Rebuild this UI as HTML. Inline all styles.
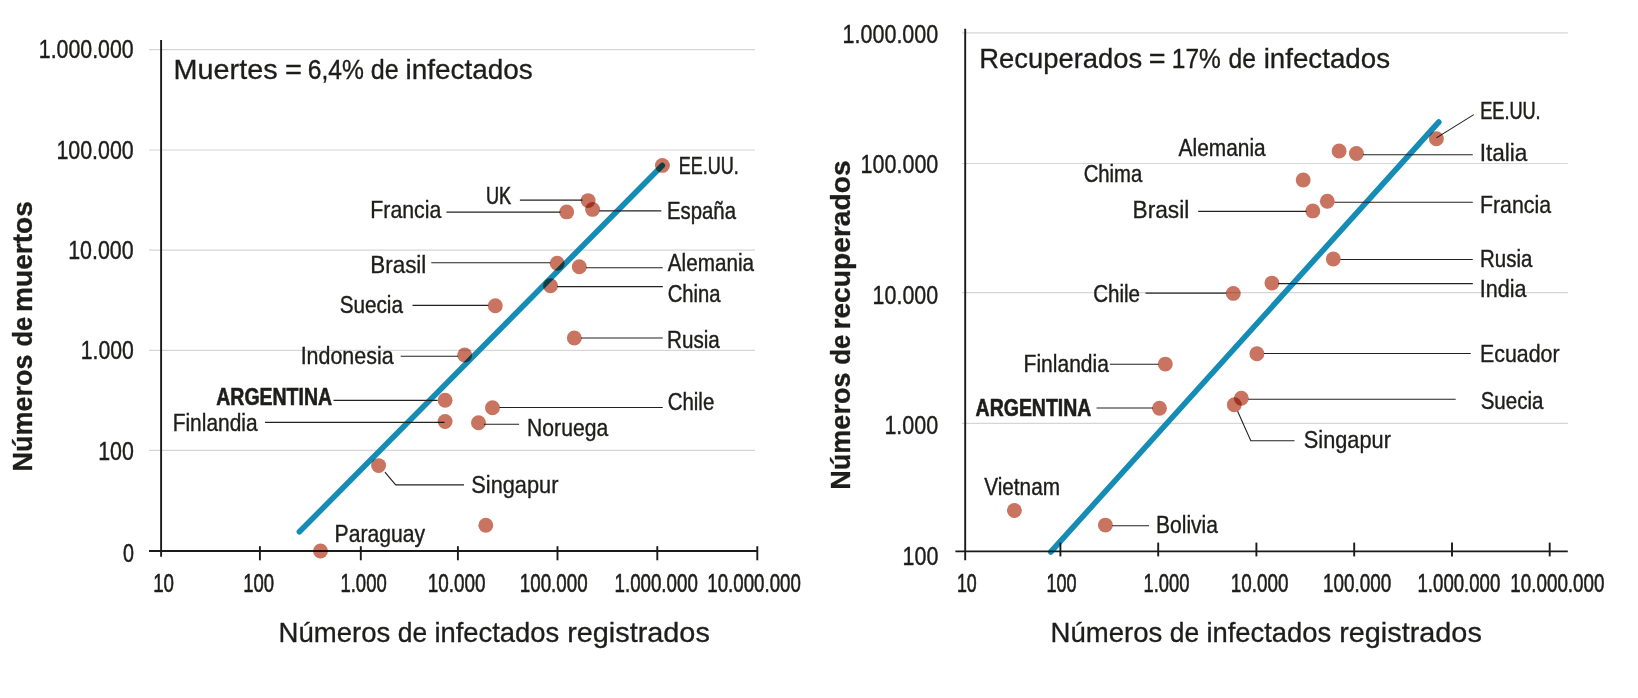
<!DOCTYPE html>
<html lang="es">
<head>
<meta charset="utf-8">
<title>Muertes y recuperados vs infectados</title>
<style>
html,body{margin:0;padding:0;background:#fff;}
body{width:1638px;height:698px;overflow:hidden;}
svg{display:block;font-family:"Liberation Sans",sans-serif;}
text{fill:#1d1d1b;stroke:#1d1d1b;stroke-width:0.32px;}
.grid{stroke:#d6d6d6;stroke-width:1.2;}
.axis{stroke:#1a1a18;stroke-width:1.9;}
.ld{stroke:#222220;stroke-width:1.1;fill:none;}
.trend{stroke:#158cb5;stroke-width:5.6;stroke-linecap:round;}
.dot{fill:#c97460;mix-blend-mode:multiply;}
</style>
</head>
<body>
<svg width="1638" height="698" viewBox="0 0 1638 698">
<rect width="1638" height="698" fill="#fff"/>
<line class="grid" x1="149.00" y1="49.60" x2="755.00" y2="49.60"/>
<line class="grid" x1="149.00" y1="150.00" x2="755.00" y2="150.00"/>
<line class="grid" x1="149.00" y1="250.20" x2="755.00" y2="250.20"/>
<line class="grid" x1="149.00" y1="350.30" x2="755.00" y2="350.30"/>
<line class="grid" x1="149.00" y1="450.40" x2="755.00" y2="450.40"/>
<line class="trend" x1="299.40" y1="531.80" x2="662.30" y2="165.50"/>
<line class="axis" x1="149.00" y1="551.00" x2="758.00" y2="551.00"/>
<line class="axis" x1="161.10" y1="40.00" x2="161.10" y2="556.80"/>
<line class="axis" x1="259.90" y1="546.20" x2="259.90" y2="560.30"/>
<line class="axis" x1="360.80" y1="546.20" x2="360.80" y2="560.30"/>
<line class="axis" x1="457.90" y1="546.20" x2="457.90" y2="560.30"/>
<line class="axis" x1="557.50" y1="546.20" x2="557.50" y2="560.30"/>
<line class="axis" x1="657.30" y1="546.20" x2="657.30" y2="560.30"/>
<line class="axis" x1="757.30" y1="546.20" x2="757.30" y2="560.30"/>
<text x="38.82" y="58.20" font-size="25.4" textLength="94.89" lengthAdjust="spacingAndGlyphs" style="stroke-width:0.42px">1.000.000</text>
<text x="56.41" y="158.70" font-size="25.4" textLength="77.35" lengthAdjust="spacingAndGlyphs" style="stroke-width:0.41px">100.000</text>
<text x="68.21" y="259.00" font-size="25.4" textLength="65.46" lengthAdjust="spacingAndGlyphs" style="stroke-width:0.41px">10.000</text>
<text x="80.73" y="359.30" font-size="25.4" textLength="53.04" lengthAdjust="spacingAndGlyphs" style="stroke-width:0.42px">1.000</text>
<text x="98.22" y="460.40" font-size="25.4" textLength="35.63" lengthAdjust="spacingAndGlyphs" style="stroke-width:0.41px">100</text>
<text x="123.03" y="561.50" font-size="25.4" textLength="10.95" lengthAdjust="spacingAndGlyphs" style="stroke-width:0.52px">0</text>
<text x="153.23" y="591.50" font-size="25.4" textLength="20.81" lengthAdjust="spacingAndGlyphs" style="stroke-width:0.58px">10</text>
<text x="243.14" y="591.50" font-size="25.4" textLength="30.88" lengthAdjust="spacingAndGlyphs" style="stroke-width:0.59px">100</text>
<text x="340.44" y="591.50" font-size="25.4" textLength="46.32" lengthAdjust="spacingAndGlyphs" style="stroke-width:0.59px">1.000</text>
<text x="427.71" y="591.50" font-size="25.4" textLength="57.77" lengthAdjust="spacingAndGlyphs" style="stroke-width:0.57px">10.000</text>
<text x="519.82" y="591.50" font-size="25.4" textLength="67.74" lengthAdjust="spacingAndGlyphs" style="stroke-width:0.58px">100.000</text>
<text x="614.53" y="591.50" font-size="25.4" textLength="83.29" lengthAdjust="spacingAndGlyphs" style="stroke-width:0.58px">1.000.000</text>
<text x="707.33" y="591.50" font-size="25.4" textLength="93.46" lengthAdjust="spacingAndGlyphs" style="stroke-width:0.58px">10.000.000</text>
<text x="173.63" y="79.30" font-size="28.5" textLength="103.93" lengthAdjust="spacingAndGlyphs" style="stroke-width:0.32px">Muertes</text>
<text x="285.07" y="79.30" font-size="28.5" textLength="16.96" lengthAdjust="spacingAndGlyphs" style="stroke-width:0.32px">=</text>
<text x="307.80" y="79.30" font-size="28.5" textLength="56.13" lengthAdjust="spacingAndGlyphs" style="stroke-width:0.38px">6,4%</text>
<text x="370.80" y="79.30" font-size="28.5" textLength="27.96" lengthAdjust="spacingAndGlyphs" style="stroke-width:0.35px">de</text>
<text x="405.44" y="79.30" font-size="28.5" textLength="127.36" lengthAdjust="spacingAndGlyphs" style="stroke-width:0.32px">infectados</text>
<text x="278.53" y="642.30" font-size="28.5" textLength="111.76" lengthAdjust="spacingAndGlyphs" style="stroke-width:0.32px">Números</text>
<text x="397.74" y="642.30" font-size="28.5" textLength="29.37" lengthAdjust="spacingAndGlyphs" style="stroke-width:0.32px">de</text>
<text x="434.38" y="642.30" font-size="28.5" textLength="124.91" lengthAdjust="spacingAndGlyphs" style="stroke-width:0.32px">infectados</text>
<text x="567.18" y="642.30" font-size="28.5" textLength="142.62" lengthAdjust="spacingAndGlyphs" style="stroke-width:0.32px">registrados</text>
<text transform="translate(32.30,469.60) rotate(-90)" x="-1.89" y="0" font-size="28.5" textLength="116.92" lengthAdjust="spacingAndGlyphs" font-weight="700" style="stroke-width:0.32px">Números</text>
<text transform="translate(32.30,469.60) rotate(-90)" x="123.08" y="0" font-size="28.5" textLength="29.83" lengthAdjust="spacingAndGlyphs" font-weight="700" style="stroke-width:0.33px">de</text>
<text transform="translate(32.30,469.60) rotate(-90)" x="157.73" y="0" font-size="28.5" textLength="110.75" lengthAdjust="spacingAndGlyphs" font-weight="700" style="stroke-width:0.32px">muertos</text>
<text x="678.84" y="173.90" font-size="24.6" textLength="59.90" lengthAdjust="spacingAndGlyphs" style="stroke-width:0.59px">EE.UU.</text>
<text x="485.93" y="203.80" font-size="24.6" textLength="25.18" lengthAdjust="spacingAndGlyphs" style="stroke-width:0.58px">UK</text>
<text x="370.26" y="218.20" font-size="24.6" textLength="71.15" lengthAdjust="spacingAndGlyphs" style="stroke-width:0.37px">Francia</text>
<text x="667.05" y="219.30" font-size="24.6" textLength="68.89" lengthAdjust="spacingAndGlyphs" style="stroke-width:0.44px">España</text>
<text x="370.17" y="272.70" font-size="24.6" textLength="56.20" lengthAdjust="spacingAndGlyphs" style="stroke-width:0.32px">Brasil</text>
<text x="667.80" y="270.70" font-size="24.6" textLength="86.23" lengthAdjust="spacingAndGlyphs" style="stroke-width:0.41px">Alemania</text>
<text x="667.67" y="302.00" font-size="24.6" textLength="52.84" lengthAdjust="spacingAndGlyphs" style="stroke-width:0.44px">China</text>
<text x="339.65" y="312.80" font-size="24.6" textLength="63.31" lengthAdjust="spacingAndGlyphs" style="stroke-width:0.41px">Suecia</text>
<text x="667.02" y="347.90" font-size="24.6" textLength="52.80" lengthAdjust="spacingAndGlyphs" style="stroke-width:0.42px">Rusia</text>
<text x="300.64" y="363.70" font-size="24.6" textLength="92.99" lengthAdjust="spacingAndGlyphs" style="stroke-width:0.37px">Indonesia</text>
<text x="216.31" y="405.10" font-size="24.6" textLength="115.75" lengthAdjust="spacingAndGlyphs" font-weight="700" style="stroke-width:0.60px">ARGENTINA</text>
<text x="172.70" y="431.20" font-size="24.6" textLength="84.85" lengthAdjust="spacingAndGlyphs" style="stroke-width:0.40px">Finlandia</text>
<text x="667.66" y="410.10" font-size="24.6" textLength="46.61" lengthAdjust="spacingAndGlyphs" style="stroke-width:0.43px">Chile</text>
<text x="527.08" y="436.40" font-size="24.6" textLength="81.10" lengthAdjust="spacingAndGlyphs" style="stroke-width:0.38px">Noruega</text>
<text x="471.29" y="492.60" font-size="24.6" textLength="87.11" lengthAdjust="spacingAndGlyphs" style="stroke-width:0.34px">Singapur</text>
<text x="334.58" y="541.60" font-size="24.6" textLength="90.45" lengthAdjust="spacingAndGlyphs" style="stroke-width:0.39px">Paraguay</text>
<line class="ld" x1="519.90" y1="200.10" x2="582.50" y2="200.10"/>
<line class="ld" x1="446.40" y1="212.10" x2="560.50" y2="212.10"/>
<line class="ld" x1="599.30" y1="210.90" x2="661.30" y2="210.90"/>
<line class="ld" x1="431.30" y1="262.80" x2="550.50" y2="262.80"/>
<line class="ld" x1="586.00" y1="267.80" x2="662.80" y2="267.80"/>
<line class="ld" x1="557.20" y1="286.60" x2="662.80" y2="286.60"/>
<line class="ld" x1="412.50" y1="305.40" x2="488.30" y2="305.40"/>
<line class="ld" x1="581.00" y1="338.00" x2="662.80" y2="338.00"/>
<line class="ld" x1="400.70" y1="356.30" x2="458.20" y2="356.30"/>
<line class="ld" x1="333.50" y1="400.40" x2="437.60" y2="400.40"/>
<line class="ld" x1="265.00" y1="422.40" x2="444.50" y2="422.40"/>
<line class="ld" x1="499.50" y1="407.50" x2="662.80" y2="407.50"/>
<line class="ld" x1="484.00" y1="424.30" x2="519.10" y2="424.30"/>
<polyline class="ld" points="384.90,472.10 395.70,484.90 464.00,484.90"/>
<line class="grid" x1="962.00" y1="32.80" x2="1567.80" y2="32.80"/>
<line class="grid" x1="962.00" y1="163.50" x2="1567.80" y2="163.50"/>
<line class="grid" x1="962.00" y1="292.60" x2="1567.80" y2="292.60"/>
<line class="grid" x1="962.00" y1="423.40" x2="1567.80" y2="423.40"/>
<line class="trend" x1="1050.70" y1="552.00" x2="1438.80" y2="122.00"/>
<line class="axis" x1="955.40" y1="551.40" x2="1567.80" y2="551.40"/>
<line class="axis" x1="965.20" y1="28.80" x2="965.20" y2="560.20"/>
<line class="axis" x1="1060.40" y1="542.60" x2="1060.40" y2="556.40"/>
<line class="axis" x1="1158.20" y1="542.60" x2="1158.20" y2="556.40"/>
<line class="axis" x1="1256.40" y1="542.60" x2="1256.40" y2="556.40"/>
<line class="axis" x1="1354.20" y1="542.60" x2="1354.20" y2="556.40"/>
<line class="axis" x1="1452.00" y1="542.60" x2="1452.00" y2="556.40"/>
<line class="axis" x1="1549.70" y1="542.60" x2="1549.70" y2="556.40"/>
<text x="842.61" y="42.60" font-size="25.4" textLength="95.61" lengthAdjust="spacingAndGlyphs" style="stroke-width:0.41px">1.000.000</text>
<text x="860.61" y="172.50" font-size="25.4" textLength="77.67" lengthAdjust="spacingAndGlyphs" style="stroke-width:0.41px">100.000</text>
<text x="872.61" y="303.60" font-size="25.4" textLength="65.57" lengthAdjust="spacingAndGlyphs" style="stroke-width:0.41px">10.000</text>
<text x="884.40" y="434.00" font-size="25.4" textLength="53.88" lengthAdjust="spacingAndGlyphs" style="stroke-width:0.40px">1.000</text>
<text x="902.51" y="564.70" font-size="25.4" textLength="35.84" lengthAdjust="spacingAndGlyphs" style="stroke-width:0.41px">100</text>
<text x="956.90" y="591.50" font-size="25.4" textLength="19.80" lengthAdjust="spacingAndGlyphs" style="stroke-width:0.64px">10</text>
<text x="1046.48" y="591.50" font-size="25.4" textLength="30.12" lengthAdjust="spacingAndGlyphs" style="stroke-width:0.62px">100</text>
<text x="1143.46" y="591.50" font-size="25.4" textLength="45.90" lengthAdjust="spacingAndGlyphs" style="stroke-width:0.60px">1.000</text>
<text x="1230.72" y="591.50" font-size="25.4" textLength="57.67" lengthAdjust="spacingAndGlyphs" style="stroke-width:0.57px">10.000</text>
<text x="1323.01" y="591.50" font-size="25.4" textLength="68.25" lengthAdjust="spacingAndGlyphs" style="stroke-width:0.57px">100.000</text>
<text x="1417.53" y="591.50" font-size="25.4" textLength="82.78" lengthAdjust="spacingAndGlyphs" style="stroke-width:0.59px">1.000.000</text>
<text x="1510.32" y="591.50" font-size="25.4" textLength="94.18" lengthAdjust="spacingAndGlyphs" style="stroke-width:0.57px">10.000.000</text>
<text x="979.34" y="67.80" font-size="28.5" textLength="162.85" lengthAdjust="spacingAndGlyphs" style="stroke-width:0.32px">Recuperados</text>
<text x="1148.78" y="67.80" font-size="28.5" textLength="16.84" lengthAdjust="spacingAndGlyphs" style="stroke-width:0.32px">=</text>
<text x="1171.87" y="67.80" font-size="28.5" textLength="48.93" lengthAdjust="spacingAndGlyphs" style="stroke-width:0.39px">17%</text>
<text x="1228.62" y="67.80" font-size="28.5" textLength="27.42" lengthAdjust="spacingAndGlyphs" style="stroke-width:0.38px">de</text>
<text x="1263.66" y="67.80" font-size="28.5" textLength="126.34" lengthAdjust="spacingAndGlyphs" style="stroke-width:0.32px">infectados</text>
<text x="1050.53" y="642.30" font-size="28.5" textLength="111.76" lengthAdjust="spacingAndGlyphs" style="stroke-width:0.32px">Números</text>
<text x="1169.74" y="642.30" font-size="28.5" textLength="29.37" lengthAdjust="spacingAndGlyphs" style="stroke-width:0.32px">de</text>
<text x="1206.38" y="642.30" font-size="28.5" textLength="124.91" lengthAdjust="spacingAndGlyphs" style="stroke-width:0.32px">infectados</text>
<text x="1339.18" y="642.30" font-size="28.5" textLength="142.62" lengthAdjust="spacingAndGlyphs" style="stroke-width:0.32px">registrados</text>
<text transform="translate(850.30,487.80) rotate(-90)" x="-1.90" y="0" font-size="28.5" textLength="117.13" lengthAdjust="spacingAndGlyphs" font-weight="700" style="stroke-width:0.32px">Números</text>
<text transform="translate(850.30,487.80) rotate(-90)" x="122.97" y="0" font-size="28.5" textLength="30.05" lengthAdjust="spacingAndGlyphs" font-weight="700" style="stroke-width:0.32px">de</text>
<text transform="translate(850.30,487.80) rotate(-90)" x="158.22" y="0" font-size="28.5" textLength="169.25" lengthAdjust="spacingAndGlyphs" font-weight="700" style="stroke-width:0.32px">recuperados</text>
<text x="1480.23" y="118.80" font-size="24.6" textLength="60.43" lengthAdjust="spacingAndGlyphs" style="stroke-width:0.58px">EE.UU.</text>
<text x="1479.63" y="160.70" font-size="24.6" textLength="47.72" lengthAdjust="spacingAndGlyphs" style="stroke-width:0.32px">Italia</text>
<text x="1178.60" y="156.40" font-size="24.6" textLength="87.03" lengthAdjust="spacingAndGlyphs" style="stroke-width:0.40px">Alemania</text>
<text x="1083.67" y="182.40" font-size="24.6" textLength="58.59" lengthAdjust="spacingAndGlyphs" style="stroke-width:0.44px">Chima</text>
<text x="1132.56" y="218.00" font-size="24.6" textLength="56.73" lengthAdjust="spacingAndGlyphs" style="stroke-width:0.32px">Brasil</text>
<text x="1479.97" y="213.00" font-size="24.6" textLength="71.05" lengthAdjust="spacingAndGlyphs" style="stroke-width:0.37px">Francia</text>
<text x="1480.04" y="266.90" font-size="24.6" textLength="52.28" lengthAdjust="spacingAndGlyphs" style="stroke-width:0.43px">Rusia</text>
<text x="1479.73" y="297.00" font-size="24.6" textLength="46.75" lengthAdjust="spacingAndGlyphs" style="stroke-width:0.36px">India</text>
<text x="1093.15" y="301.50" font-size="24.6" textLength="46.92" lengthAdjust="spacingAndGlyphs" style="stroke-width:0.42px">Chile</text>
<text x="1479.96" y="361.70" font-size="24.6" textLength="79.65" lengthAdjust="spacingAndGlyphs" style="stroke-width:0.37px">Ecuador</text>
<text x="1023.59" y="371.70" font-size="24.6" textLength="85.36" lengthAdjust="spacingAndGlyphs" style="stroke-width:0.39px">Finlandia</text>
<text x="975.61" y="416.10" font-size="24.6" textLength="115.75" lengthAdjust="spacingAndGlyphs" font-weight="700" style="stroke-width:0.60px">ARGENTINA</text>
<text x="1480.66" y="408.60" font-size="24.6" textLength="62.80" lengthAdjust="spacingAndGlyphs" style="stroke-width:0.42px">Suecia</text>
<text x="1303.79" y="448.20" font-size="24.6" textLength="87.11" lengthAdjust="spacingAndGlyphs" style="stroke-width:0.34px">Singapur</text>
<text x="984.19" y="494.60" font-size="24.6" textLength="75.80" lengthAdjust="spacingAndGlyphs" style="stroke-width:0.41px">Vietnam</text>
<text x="1155.99" y="533.00" font-size="24.6" textLength="61.97" lengthAdjust="spacingAndGlyphs" style="stroke-width:0.39px">Bolivia</text>
<line class="ld" x1="1473.80" y1="114.60" x2="1436.40" y2="137.90"/>
<line class="ld" x1="1363.00" y1="154.70" x2="1472.80" y2="154.70"/>
<line class="ld" x1="1198.20" y1="211.40" x2="1306.50" y2="211.40"/>
<line class="ld" x1="1334.60" y1="202.30" x2="1472.80" y2="202.30"/>
<line class="ld" x1="1340.40" y1="259.50" x2="1472.80" y2="259.50"/>
<line class="ld" x1="1278.20" y1="283.60" x2="1472.80" y2="283.60"/>
<line class="ld" x1="1145.50" y1="293.10" x2="1226.30" y2="293.10"/>
<line class="ld" x1="1263.90" y1="353.50" x2="1470.80" y2="353.50"/>
<line class="ld" x1="1109.90" y1="364.30" x2="1158.50" y2="364.30"/>
<line class="ld" x1="1096.60" y1="408.00" x2="1153.00" y2="408.00"/>
<line class="ld" x1="1248.30" y1="399.20" x2="1455.70" y2="399.20"/>
<polyline class="ld" points="1237.60,411.30 1250.80,440.80 1294.50,440.80"/>
<line class="ld" x1="1112.20" y1="525.80" x2="1149.00" y2="525.80"/>
<circle class="dot" cx="662.40" cy="165.40" r="7.45"/>
<circle class="dot" cx="588.10" cy="200.60" r="7.45"/>
<circle class="dot" cx="592.60" cy="209.40" r="7.45"/>
<circle class="dot" cx="566.70" cy="211.90" r="7.45"/>
<circle class="dot" cx="557.20" cy="263.30" r="7.45"/>
<circle class="dot" cx="579.30" cy="266.80" r="7.45"/>
<circle class="dot" cx="550.50" cy="285.80" r="7.45"/>
<circle class="dot" cx="495.30" cy="305.70" r="7.45"/>
<circle class="dot" cx="574.30" cy="338.00" r="7.45"/>
<circle class="dot" cx="464.70" cy="355.00" r="7.45"/>
<circle class="dot" cx="445.10" cy="400.20" r="7.45"/>
<circle class="dot" cx="445.10" cy="421.50" r="7.45"/>
<circle class="dot" cx="492.50" cy="407.70" r="7.45"/>
<circle class="dot" cx="478.50" cy="422.70" r="7.45"/>
<circle class="dot" cx="378.60" cy="465.60" r="7.45"/>
<circle class="dot" cx="320.50" cy="551.00" r="7.45"/>
<circle class="dot" cx="485.80" cy="525.30" r="7.45"/>
<circle class="dot" cx="1436.40" cy="138.70" r="7.45"/>
<circle class="dot" cx="1339.10" cy="151.00" r="7.45"/>
<circle class="dot" cx="1356.40" cy="153.50" r="7.45"/>
<circle class="dot" cx="1303.20" cy="180.00" r="7.45"/>
<circle class="dot" cx="1327.30" cy="201.30" r="7.45"/>
<circle class="dot" cx="1312.80" cy="210.90" r="7.45"/>
<circle class="dot" cx="1333.30" cy="259.00" r="7.45"/>
<circle class="dot" cx="1271.90" cy="283.10" r="7.45"/>
<circle class="dot" cx="1233.30" cy="293.40" r="7.45"/>
<circle class="dot" cx="1256.90" cy="353.80" r="7.45"/>
<circle class="dot" cx="1165.30" cy="364.10" r="7.45"/>
<circle class="dot" cx="1159.50" cy="408.20" r="7.45"/>
<circle class="dot" cx="1241.30" cy="398.20" r="7.45"/>
<circle class="dot" cx="1234.30" cy="404.70" r="7.45"/>
<circle class="dot" cx="1014.40" cy="510.50" r="7.45"/>
<circle class="dot" cx="1105.40" cy="525.10" r="7.45"/>
</svg>
</body>
</html>
